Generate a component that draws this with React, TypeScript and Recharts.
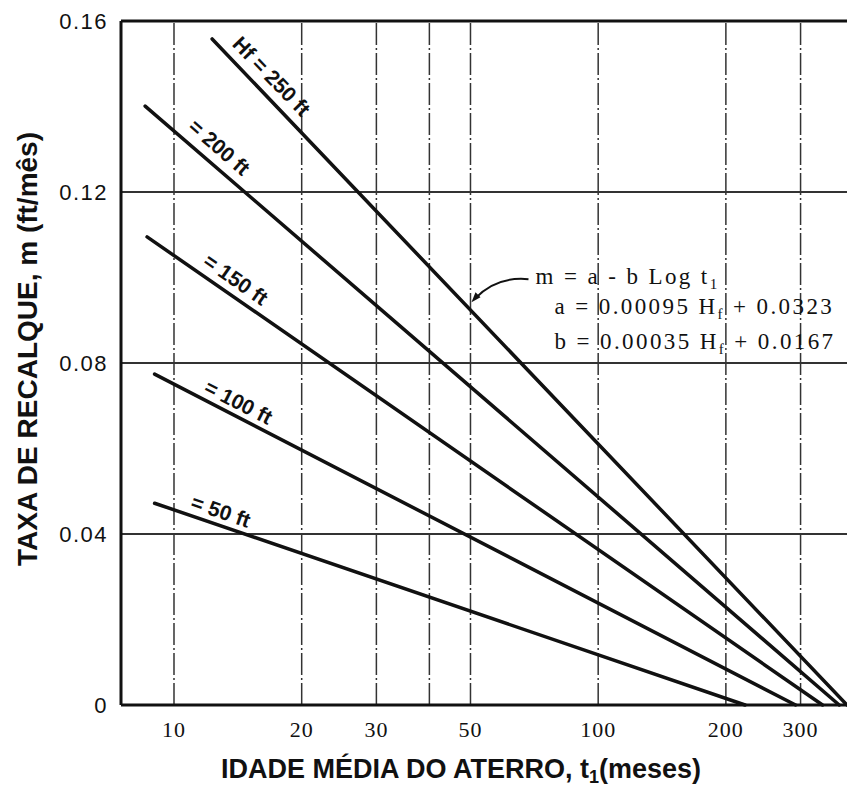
import React from 'react';
import { LineChart, Line, XAxis, YAxis, ReferenceLine, ReferenceDot } from 'recharts';

// landfill height Hf (ft), one line each
const hfLabels = ['Hf = 250 ft', '= 200 ft', '= 150 ft', '= 100 ft', '= 50 ft'];
// start and end of every line (t in months, m in ft/month)
const tStart = [12.3, 8.55, 8.64, 9.0, 9.0];
const mStart = [0.1558, 0.1401, 0.1095, 0.0774, 0.0472];
const tEnd = [386, 370, 338, 292, 222];
const mEnd = [0, 0, 0, 0, 0];
// where the Hf labels sit
const labelT = [17.0, 12.8, 14.0, 14.2, 12.9];
const labelM = [0.1471, 0.1305, 0.0996, 0.0709, 0.0454];

const tTicks = [10, 20, 30, 50, 100, 200, 300];
const tGrid = [10, 20, 30, 40, 50, 100, 200, 300];
const mTicks = [0, 0.04, 0.08, 0.12, 0.16];
const mGrid = [0.04, 0.08, 0.12];

// arrow from the equation points to the Hf = 250 ft line here
const arrowT = 50;
const arrowM = 0.094;

const labelAngles = [46, 41, 35, 27, 19];

const seriesData = hfLabels.map((_, i) => [
  { t: tStart[i], m: mStart[i] },
  { t: tEnd[i], m: mEnd[i] },
]);

const INK = '#111';

const HfLabel = (angle: number, text: string) => (props: any) => {
  const { cx, cy } = props;
  return (
    <text
      transform={`translate(${cx},${cy}) rotate(${angle})`}
      textAnchor="middle"
      dominantBaseline="central"
      fontFamily="'Liberation Sans', Arial, sans-serif"
      fontWeight="bold"
      fontSize={21}
      fill={INK}
    >
      {text}
    </text>
  );
};

const Equation = (props: any) => {
  const { cx, cy } = props;
  const eq = {
    fontFamily: "'Liberation Serif', 'Times New Roman', serif",
    fontSize: 23,
    letterSpacing: 2.4,
    fill: INK,
  };
  return (
    <g transform={`translate(${cx},${cy})`}>
      <path d="M 58 -24 Q 26 -27 5 -5" fill="none" stroke={INK} strokeWidth={2} />
      <polygon points="1,-1 10,-6 5,-11" fill={INK} />
      <text x={65} y={-19} {...eq}>
        m = a - b Log t<tspan fontSize={15} dy={5}>1</tspan>
      </text>
      <text x={84} y={11} {...eq}>
        a = 0.00095 H<tspan fontSize={15} dy={5}>f</tspan>
        <tspan dy={-5}> + 0.0323</tspan>
      </text>
      <text x={84} y={46} {...eq}>
        b = 0.00035 H<tspan fontSize={15} dy={5}>f</tspan>
        <tspan dy={-5}> + 0.0167</tspan>
      </text>
    </g>
  );
};

const App: React.FC = () => {
  return (
    <div style={{ position: 'fixed', left: 0, top: 0, width: 847, height: 789, background: '#fff' }}>
      <LineChart width={847} height={789} margin={{ top: 21, right: 0, bottom: 0, left: 0 }}>
        <XAxis
          type="number"
          dataKey="t"
          scale="log"
          domain={[7.5, 386]}
          allowDataOverflow
          ticks={tTicks}
          interval={0}
          height={84}
          tickSize={0}
          tickMargin={16}
          tick={{ fill: INK, fontSize: 22, fontFamily: "'Liberation Serif', serif", letterSpacing: 1 }}
          axisLine={{ stroke: INK, strokeWidth: 3 }}
        />
        <YAxis
          type="number"
          dataKey="m"
          domain={[0, 0.16]}
          ticks={mTicks}
          interval={0}
          width={121}
          tickSize={0}
          tickMargin={13}
          tickFormatter={(v: number) => (v === 0 ? '0' : v.toFixed(2))}
          tick={{ fill: INK, fontSize: 22, fontFamily: "'Liberation Sans', sans-serif", letterSpacing: 1.5 }}
          axisLine={{ stroke: INK, strokeWidth: 3 }}
        />
        {tGrid.map((v) => (
          <ReferenceLine key={`x${v}`} x={v} stroke="#333" strokeWidth={1.5} strokeDasharray="22 3 2 3" />
        ))}
        {mGrid.map((v) => (
          <ReferenceLine key={`y${v}`} y={v} stroke="#333" strokeWidth={1.8} />
        ))}
        <ReferenceLine y={0.16} stroke={INK} strokeWidth={3} />
        {seriesData.map((d, i) => (
          <Line
            key={hfLabels[i]}
            data={d}
            dataKey="m"
            type="linear"
            stroke={INK}
            strokeWidth={3.5}
            strokeLinecap="round"
            dot={false}
            activeDot={false}
            isAnimationActive={false}
          />
        ))}
        {hfLabels.map((txt, i) => (
          <ReferenceDot
            key={`l${i}`}
            x={labelT[i]}
            y={labelM[i]}
            r={1}
            shape={HfLabel(labelAngles[i], txt)}
          />
        ))}
        <ReferenceDot x={arrowT} y={arrowM} r={1} shape={Equation} />
      </LineChart>
      <svg width={847} height={789} style={{ position: 'absolute', left: 0, top: 0, pointerEvents: 'none' }}>
        <text
          transform="translate(37,349) rotate(-90)"
          textAnchor="middle"
          fontFamily="'Liberation Sans', Arial, sans-serif"
          fontWeight="bold"
          fontSize={28}
          fill={INK}
        >
          TAXA DE RECALQUE, m (ft/mês)
        </text>
        <text
          x={461}
          y={778}
          textAnchor="middle"
          fontFamily="'Liberation Sans', Arial, sans-serif"
          fontWeight="bold"
          fontSize={27}
          fill={INK}
        >
          IDADE MÉDIA DO ATERRO, t<tspan fontSize={18} dy={5}>1</tspan>
          <tspan dy={-5}>(meses)</tspan>
        </text>
      </svg>
    </div>
  );
};

export default App;
